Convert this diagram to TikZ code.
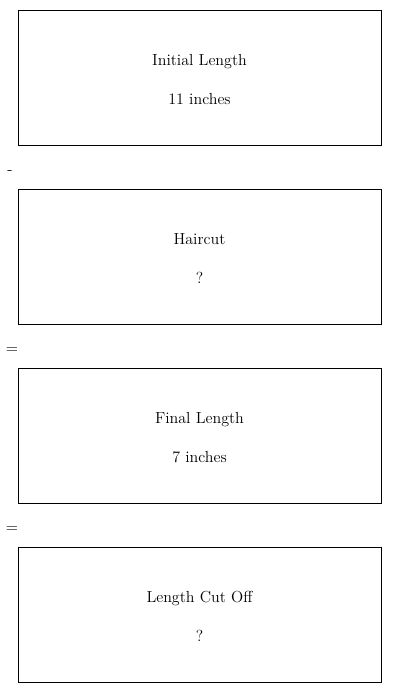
\documentclass[tikz,border=0pt]{standalone}
\usepackage{amsmath}
\usepackage{xcolor}

\tikzset{
  stepbox/.style={draw, line width=0.6pt, minimum width=272.25pt, minimum height=101.25pt,
    align=center, font=\fontsize{12}{14.5}\selectfont},
  steptext/.style={align=center, font=\fontsize{12}{14.5}\selectfont},
  opsign/.style={font=\fontsize{12}{14.5}\selectfont, inner sep=0pt}
}

\begin{document}
\begin{tikzpicture}[x=0.75pt,y=-0.75pt]
  % Frame
  \useasboundingbox (0,0) rectangle (400,693);

  % Initial length
  \node[stepbox] (initial) at (199.5,77.5) {};
  \node[steptext] (initialtxt) at (199.5,79.5) {Initial Length\\[15pt]11 inches};

  % Minus
  \node[opsign] (minus) at (10,173) {-};

  % Haircut
  \node[stepbox] (haircut) at (199.5,256.5) {};
  \node[steptext] (haircuttxt) at (199.5,258.5) {Haircut\\[15pt]?};

  % Equals
  \node[opsign] (eqa) at (12,351) {=};

  % Final length
  \node[stepbox] (final) at (199.5,435.5) {};
  \node[steptext] (finaltxt) at (199.5,437.5) {Final Length\\[15pt]7 inches};

  % Equals
  \node[opsign] (eqb) at (12,530) {=};

  % Length cut off
  \node[stepbox] (cutoff) at (199.5,614.5) {};
  \node[steptext] (cutofftxt) at (199.5,616.5) {Length Cut Off\\[15pt]?};
\end{tikzpicture}
\end{document}
